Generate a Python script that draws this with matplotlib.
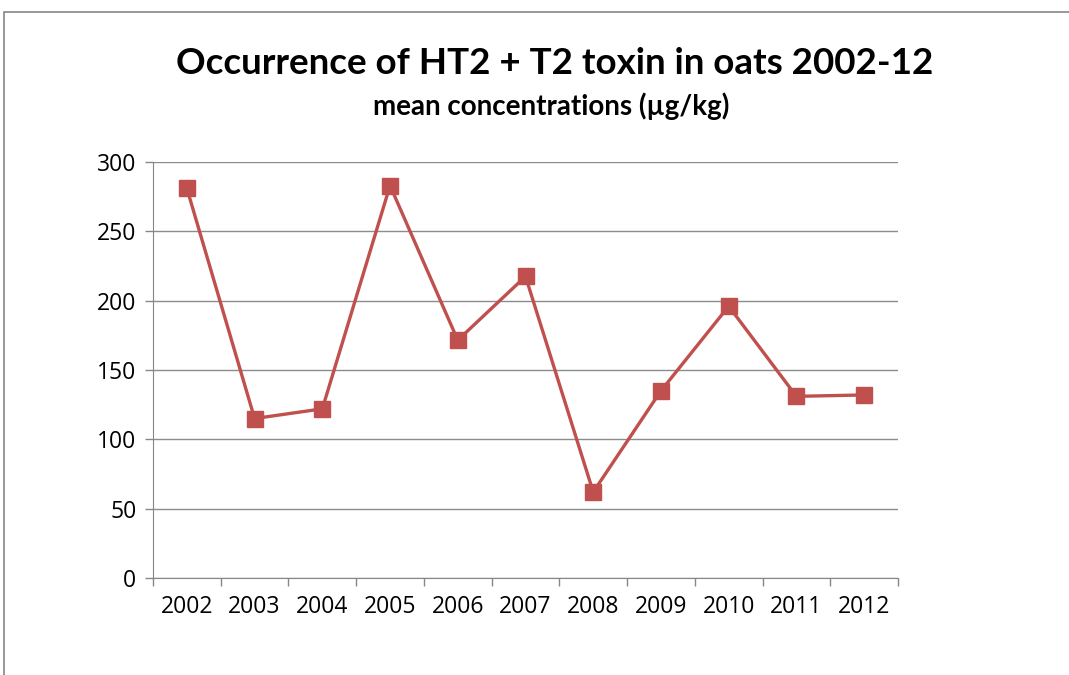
import matplotlib
matplotlib.use("Agg")
import matplotlib.pyplot as plt
from matplotlib.patches import Rectangle
import numpy as np

years = ["2002", "2003", "2004", "2005", "2006", "2007", "2008", "2009", "2010", "2011", "2012"]
values = [281, 115, 122, 283, 171.5, 217.5, 62, 135, 196, 131, 132]
y_ticks = [0, 50, 100, 150, 200, 250, 300]

W, H = 1069, 675
fig = plt.figure(figsize=(W / 100, H / 100), dpi=100)
fig.patch.set_facecolor("white")

# outer chart border
fig.patches.append(Rectangle((4 / W, -0.05), 1.2, (H - 12) / H + 0.05,
                             transform=fig.transFigure, fill=False,
                             edgecolor="#868686", linewidth=1.2))

ax = fig.add_axes([153 / W, 1 - 578 / H, (898 - 153) / W, (578 - 162) / H])
x = np.arange(len(years))
ax.plot(x, values, color="#C0504D", linewidth=2.4, marker="s",
        markersize=11.5, markerfacecolor="#C0504D", markeredgecolor="#C0504D",
        zorder=3)

ax.set_xlim(-0.5, len(years) - 0.5)
ax.set_ylim(0, 300)
ax.set_yticks(y_ticks)
ax.set_yticklabels([str(v) for v in y_ticks], fontsize=16.5, family="Open Sans")
ax.set_xticks(x)
ax.set_xticklabels(years, fontsize=16.5, family="Open Sans")
ax.set_xticks(np.arange(-0.5, len(years), 1.0), minor=True)
ax.tick_params(axis="x", which="major", length=0, pad=12)
ax.tick_params(axis="x", which="minor", length=6, color="#868686", width=1)
ax.tick_params(axis="y", length=6, color="#868686", width=1, pad=6)

ax.grid(axis="y", color="#8c8c8c", linewidth=1)
ax.set_axisbelow(True)
for s in ["top", "right"]:
    ax.spines[s].set_visible(False)
ax.spines["left"].set_color("#868686")
ax.spines["bottom"].set_color("#868686")

fig.text(555 / W, 1 - 64 / H, "Occurrence of HT2 + T2 toxin in oats 2002-12",
         ha="center", va="center", fontsize=26.5, fontweight="bold", family="Lato")
fig.text(551 / W, 1 - 106 / H, "mean concentrations (µg/kg)",
         ha="center", va="center", fontsize=20, fontweight="bold", family="Lato")

fig.savefig("out.png", dpi=100)
